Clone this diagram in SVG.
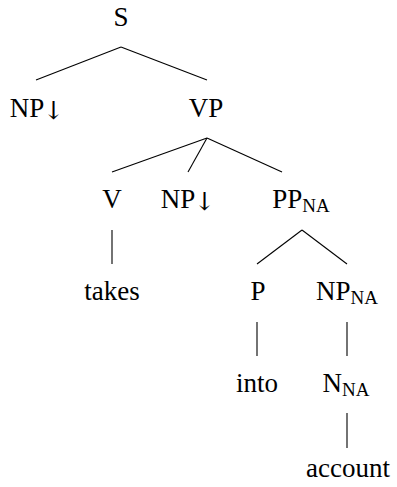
<svg xmlns="http://www.w3.org/2000/svg" width="397" height="487" viewBox="0 0 397 487">
<style>
text{font-family:"Liberation Serif","DejaVu Serif",serif;font-size:27px;fill:#000;text-anchor:middle}
.sub{font-size:19px}
.arr{font-family:"DejaVu Serif",serif;font-size:25px}
line{stroke:#000;stroke-width:1.1}
</style>
<rect width="397" height="487" fill="#fff"/>
<g id="edges">
<line x1="121" y1="47" x2="36" y2="80"/>
<line x1="121" y1="47" x2="207" y2="80"/>
<line x1="207" y1="138" x2="112" y2="172"/>
<line x1="207" y1="138" x2="188" y2="172"/>
<line x1="207" y1="138" x2="282" y2="172"/>
<line x1="112" y1="230" x2="112" y2="264"/>
<line x1="302" y1="230" x2="257" y2="264"/>
<line x1="302" y1="230" x2="347" y2="264"/>
<line x1="257" y1="322" x2="257" y2="356"/>
<line x1="347" y1="322" x2="347" y2="356"/>
<line x1="347" y1="413" x2="347" y2="448"/>
</g>
<g id="S"><text x="121" y="26">S</text></g>
<g id="NP1"><text x="37" y="117">NP<tspan class="arr" dx="-1" dy="2">↓</tspan></text></g>
<g id="VP"><text x="206" y="117">VP</text></g>
<g id="V"><text x="112" y="208">V</text></g>
<g id="NP2"><text x="188" y="208">NP<tspan class="arr" dx="-1" dy="2">↓</tspan></text></g>
<g id="PP"><text x="301" y="208">PP<tspan class="sub" dy="4">NA</tspan></text></g>
<g id="takes"><text x="112" y="300">takes</text></g>
<g id="P"><text x="258" y="300">P</text></g>
<g id="NP3"><text x="347" y="300">NP<tspan class="sub" dy="4">NA</tspan></text></g>
<g id="into"><text x="257" y="392">into</text></g>
<g id="N"><text x="346" y="392">N<tspan class="sub" dy="4">NA</tspan></text></g>
<g id="account"><text x="348" y="477">account</text></g>
</svg>
